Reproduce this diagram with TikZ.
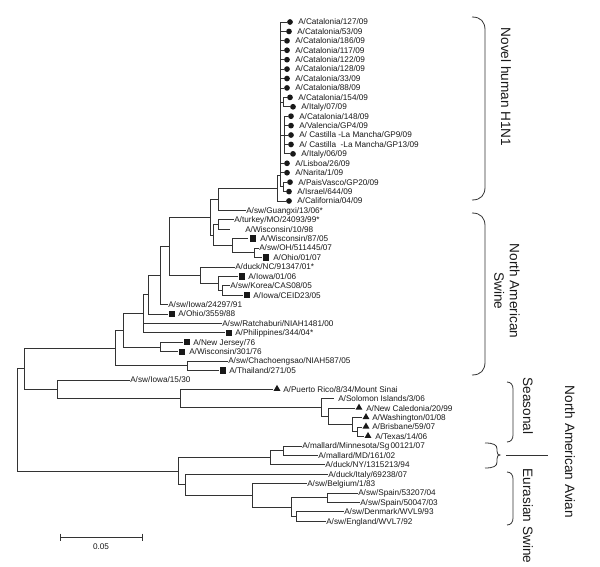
\documentclass[tikz,border=0pt]{standalone}
\usepackage{fontspec}
\setmainfont{Liberation Sans}
\usetikzlibrary{shapes.geometric}
\tikzset{
  br/.style={draw=black!80, line width=0.6pt},
  lbl/.style={anchor=base west, inner sep=0, yshift=-2.15pt, text=black!90, font=\fontsize{6.15}{7}\selectfont},
  big/.style={inner sep=0, text=black!90, font=\fontsize{10.2}{11.5}\selectfont, rotate=-90, align=center},
  dotm/.style={circle, fill=black!90, inner sep=0, minimum size=4.3pt},
  sqm/.style={rectangle, fill=black!90, inner sep=0, minimum size=4.8pt},
  trim/.style={regular polygon, regular polygon sides=3, fill=black!90, inner sep=0, minimum size=6pt, yshift=0.4pt},
  brace/.style={draw=black!80, line width=0.6pt}
}
\newcommand\leaf[5]{\coordinate (L#1) at (#3,#2);\node[lbl] (T#1) at (#4,#2) {#5};}
\newcommand\mk[4]{\node[#2] (M#1) at (#3,#4) {};}
\begin{document}
\begin{tikzpicture}[x=0.75pt,y=-0.75pt]
\useasboundingbox (0,0) rectangle (600,567);
% ---------- leaves ----------
\leaf{0}{22.00}{287}{298}{A/Catalonia/127/09}\mk{0}{dotm}{290}{22.00}
\leaf{1}{31.42}{286}{297}{A/Catalonia/53/09}\mk{1}{dotm}{289}{31.42}
\leaf{2}{40.84}{284}{295}{A/Catalonia/186/09}\mk{2}{dotm}{287}{40.84}
\leaf{3}{50.26}{284}{295}{A/Catalonia/117/09}\mk{3}{dotm}{287}{50.26}
\leaf{4}{59.68}{284}{295}{A/Catalonia/122/09}\mk{4}{dotm}{287}{59.68}
\leaf{5}{69.10}{284}{295}{A/Catalonia/128/09}\mk{5}{dotm}{287}{69.10}
\leaf{6}{78.52}{284}{295}{A/Catalonia/33/09}\mk{6}{dotm}{287}{78.52}
\leaf{7}{87.94}{284}{295}{A/Catalonia/88/09}\mk{7}{dotm}{287}{87.94}
\leaf{8}{97.36}{287}{298}{A/Catalonia/154/09}\mk{8}{dotm}{290}{97.36}
\leaf{9}{106.78}{290}{301}{A/Italy/07/09}\mk{9}{dotm}{293}{106.78}
\leaf{10}{116.20}{288}{299}{A/Catalonia/148/09}\mk{10}{dotm}{291}{116.20}
\leaf{11}{125.62}{288}{299}{A/Valencia/GP4/09}\mk{11}{dotm}{291}{125.62}
\leaf{12}{135.04}{288}{299}{A/ Castilla -La Mancha/GP9/09}\mk{12}{dotm}{291}{135.04}
\leaf{13}{144.46}{288}{299}{A/ Castilla\ \ -La Mancha/GP13/09}\mk{13}{dotm}{291}{144.46}
\leaf{14}{153.88}{290}{301}{A/Italy/06/09}\mk{14}{dotm}{293}{153.88}
\leaf{15}{163.30}{284}{295}{A/Lisboa/26/09}\mk{15}{dotm}{287}{163.30}
\leaf{16}{172.72}{284}{295}{A/Narita/1/09}\mk{16}{dotm}{287}{172.72}
\leaf{17}{182.14}{287}{298}{A/PaisVasco/GP20/09}\mk{17}{dotm}{290}{182.14}
\leaf{18}{191.56}{286}{297}{A/Israel/644/09}\mk{18}{dotm}{289}{191.56}
\leaf{19}{200.98}{286}{297}{A/California/04/09}\mk{19}{dotm}{289}{200.98}
\leaf{20}{210.40}{246}{246}{A/sw/Guangxi/13/06*}
\leaf{21}{219.82}{234}{234}{A/turkey/MO/24093/99*}
\leaf{22}{229.24}{230}{245}{A/Wisconsin/10/98}
\leaf{23}{238.66}{248}{260}{A/Wisconsin/87/05}\mk{23}{sqm}{253}{238.66}
\leaf{24}{248.08}{259}{259}{A/sw/OH/511445/07}
\leaf{25}{257.50}{262}{273}{A/Ohio/01/07}\mk{25}{sqm}{266}{257.50}
\leaf{26}{266.92}{235}{235}{A/duck/NC/91347/01*}
\leaf{27}{276.34}{238}{248}{A/Iowa/01/06}\mk{27}{sqm}{242}{276.34}
\leaf{28}{285.76}{230}{230}{A/sw/Korea/CAS08/05}
\leaf{29}{295.18}{243}{253}{A/Iowa/CEID23/05}\mk{29}{sqm}{247}{295.18}
\leaf{30}{304.60}{168}{168}{A/sw/Iowa/24297/91}
\leaf{31}{314.02}{168}{178}{A/Ohio/3559/88}\mk{31}{sqm}{172}{314.02}
\leaf{32}{323.44}{222}{222}{A/sw/Ratchaburi/NIAH1481/00}
\leaf{33}{332.86}{225}{235}{A/Philippines/344/04*}\mk{33}{sqm}{229}{332.86}
\leaf{34}{342.28}{183}{193}{A/New Jersey/76}\mk{34}{sqm}{187}{342.28}
\leaf{35}{351.70}{178}{189}{A/Wisconsin/301/76}\mk{35}{sqm}{182}{351.70}
\leaf{36}{361.12}{228}{228}{A/sw/Chachoengsao/NIAH587/05}
\leaf{37}{370.54}{219}{229}{A/Thailand/271/05}\mk{37}{sqm}{223}{370.54}
\leaf{38}{379.96}{130}{130}{A/sw/Iowa/15/30}
\leaf{39}{389.38}{273}{283}{A/Puerto Rico/8/34/Mount Sinai}\mk{39}{trim}{277}{389.38}
\leaf{40}{398.80}{334}{338}{A/Solomon Islands/3/06}
\leaf{41}{408.22}{355}{366}{A/New Caledonia/20/99}\mk{41}{trim}{359}{408.22}
\leaf{42}{417.64}{362}{372}{A/Washington/01/08}\mk{42}{trim}{366}{417.64}
\leaf{43}{427.06}{362}{372}{A/Brisbane/59/07}\mk{43}{trim}{366}{427.06}
\leaf{44}{436.48}{364}{375}{A/Texas/14/06}\mk{44}{trim}{368}{436.48}
\leaf{45}{445.90}{302}{302}{A/mallard/Minnesota/Sg\,00121/07}
\leaf{46}{455.32}{318}{318}{A/mallard/MD/161/02}
\leaf{47}{464.74}{325}{325}{A/duck/NY/1315213/94}
\leaf{48}{474.16}{328}{328}{A/duck/Italy/69238/07}
\leaf{49}{483.58}{307}{307}{A/sw/Belgium/1/83}
\leaf{50}{493.00}{358}{358}{A/sw/Spain/53207/04}
\leaf{51}{502.42}{360}{360}{A/sw/Spain/50047/03}
\leaf{52}{511.84}{344}{344}{A/sw/Denmark/WVL9/93}
\leaf{53}{521.26}{326}{326}{A/sw/England/WVL7/92}
% ---------- internal nodes ----------
\coordinate (hc1) at (283,102.07);
\coordinate (hc2) at (284,135.04);
\coordinate (hc3) at (283,186.85);
\coordinate (hin) at (280,175);
\coordinate (hroot) at (277,188);
\coordinate (g) at (218,199.2);
\coordinate (turk) at (218,224.53);
\coordinate (w87c) at (254,252.79);
\coordinate (w87) at (232,245.7);
\coordinate (nar) at (213,235.1);
\coordinate (NA) at (210,217.2);
\coordinate (korc) at (222,290.47);
\coordinate (iow) at (218,283.4);
\coordinate (dnc) at (200,275.2);
\coordinate (n169) at (169,246.2);
\coordinate (n160) at (160,275.4);
\coordinate (n148) at (148,294.7);
\coordinate (n143) at (143,313.8);
\coordinate (njw) at (160,346.99);
\coordinate (n123) at (123,330.4);
\coordinate (cht) at (187,365.83);
\coordinate (n115) at (115,348.1);
\coordinate (sea5) at (357,431.77);
\coordinate (sea4) at (352,424.7);
\coordinate (sea3) at (328,416.5);
\coordinate (sea2) at (321,407.6);
\coordinate (sea1) at (180,398.5);
\coordinate (n57) at (57,389.2);
\coordinate (n24) at (24,368.7);
\coordinate (mal2) at (283,450.61);
\coordinate (mal1) at (270,457.7);
\coordinate (spn) at (327,497.71);
\coordinate (dk) at (296,516.55);
\coordinate (eu3) at (291,507.1);
\coordinate (eu2) at (252,495.3);
\coordinate (eu1) at (185,484.7);
\coordinate (av) at (178,471.2);
\coordinate (root) at (17,420);
% ---------- branches ----------
\foreach \c in {L0,L1,L2,L3,L4,L5,L6,L7,hc1,hc2,L15,L16,hc3} {\draw[br] (hin) |- (\c);}
\foreach \c in {L8,L9} {\draw[br] (hc1) |- (\c);}
\foreach \c in {L10,L11,L12,L13,L14} {\draw[br] (hc2) |- (\c);}
\foreach \c in {L17,L18} {\draw[br] (hc3) |- (\c);}
\foreach \c in {hin,L19} {\draw[br] (hroot) |- (\c);}
\foreach \c in {hroot,L20} {\draw[br] (g) |- (\c);}
\foreach \c in {g,nar} {\draw[br] (NA) |- (\c);}
\foreach \c in {turk,w87} {\draw[br] (nar) |- (\c);}
\foreach \c in {L21,L22} {\draw[br] (turk) |- (\c);}
\foreach \c in {L23,w87c} {\draw[br] (w87) |- (\c);}
\foreach \c in {L24,L25} {\draw[br] (w87c) |- (\c);}
\foreach \c in {NA,dnc} {\draw[br] (n169) |- (\c);}
\foreach \c in {L26,iow} {\draw[br] (dnc) |- (\c);}
\foreach \c in {L27,korc} {\draw[br] (iow) |- (\c);}
\foreach \c in {L28,L29} {\draw[br] (korc) |- (\c);}
\foreach \c in {n169,L30} {\draw[br] (n160) |- (\c);}
\foreach \c in {n160,L31} {\draw[br] (n148) |- (\c);}
\foreach \c in {n148,L32,L33} {\draw[br] (n143) |- (\c);}
\foreach \c in {n143,njw} {\draw[br] (n123) |- (\c);}
\foreach \c in {L34,L35} {\draw[br] (njw) |- (\c);}
\foreach \c in {n123,cht} {\draw[br] (n115) |- (\c);}
\foreach \c in {L36,L37} {\draw[br] (cht) |- (\c);}
\foreach \c in {n115,n57} {\draw[br] (n24) |- (\c);}
\foreach \c in {L38,sea1} {\draw[br] (n57) |- (\c);}
\foreach \c in {L39,sea2} {\draw[br] (sea1) |- (\c);}
\foreach \c in {L40,sea3} {\draw[br] (sea2) |- (\c);}
\foreach \c in {L41,sea4} {\draw[br] (sea3) |- (\c);}
\foreach \c in {L42,sea5} {\draw[br] (sea4) |- (\c);}
\foreach \c in {L43,L44} {\draw[br] (sea5) |- (\c);}
\foreach \c in {n24,av} {\draw[br] (root) |- (\c);}
\foreach \c in {mal1,eu1} {\draw[br] (av) |- (\c);}
\foreach \c in {mal2,L47} {\draw[br] (mal1) |- (\c);}
\foreach \c in {L45,L46} {\draw[br] (mal2) |- (\c);}
\foreach \c in {L48,eu2} {\draw[br] (eu1) |- (\c);}
\foreach \c in {L49,eu3} {\draw[br] (eu2) |- (\c);}
\foreach \c in {spn,dk} {\draw[br] (eu3) |- (\c);}
\foreach \c in {L50,L51} {\draw[br] (spn) |- (\c);}
\foreach \c in {L52,L53} {\draw[br] (dk) |- (\c);}
% ---------- braces and group labels ----------
\draw[brace] (472,17) .. controls (481,17) and (485,22) .. (485,30) -- (485,187) .. controls (485,195) and (481,200) .. (472,200);
\node[big] (gH1) at (506,87) {Novel human H1N1};
\draw[brace] (472,213) .. controls (481,213) and (485,218) .. (485,226) -- (485,362) .. controls (485,370) and (481,375) .. (472,375);
\node[big] (gNAS) at (507,291) {North American\\Swine};
\draw[brace] (507,382) .. controls (511,382) and (513,385) .. (513,389) -- (513,435) .. controls (513,439) and (511,442) .. (507,442);
\node[big] (gSea) at (528,406) {Seasonal};
\draw[brace] (485,443) .. controls (494,443) and (497,445) .. (497,449) -- (497,451) .. controls (497,454) and (498,455) .. (500,455) .. controls (498,455) and (497,456) .. (497,459) -- (497,462) .. controls (497,466) and (494,468) .. (485,468);
\coordinate (avL) at (506,455);
\coordinate (avR) at (548,455);
\draw[brace] (avL) -- (avR);
\draw[brace] (507,472) .. controls (511,472) and (513,475) .. (513,479) -- (513,518) .. controls (513,522) and (511,525) .. (507,525);
\node[big] (gEu) at (528,516) {Eurasian Swine};
\node[big] (gNAA) at (570,452) {North American Avian};
% ---------- scale bar ----------
\coordinate (sb1) at (60,537);
\coordinate (sb2) at (142,537);
\draw[br] (sb1) -- (sb2);
\draw[br] (60,533.5) -- (60,540.5);
\draw[br] (142,533.5) -- (142,540.5);
\node[lbl, anchor=base] (sbl) at (101,547) {0.05};
\end{tikzpicture}
\end{document}
